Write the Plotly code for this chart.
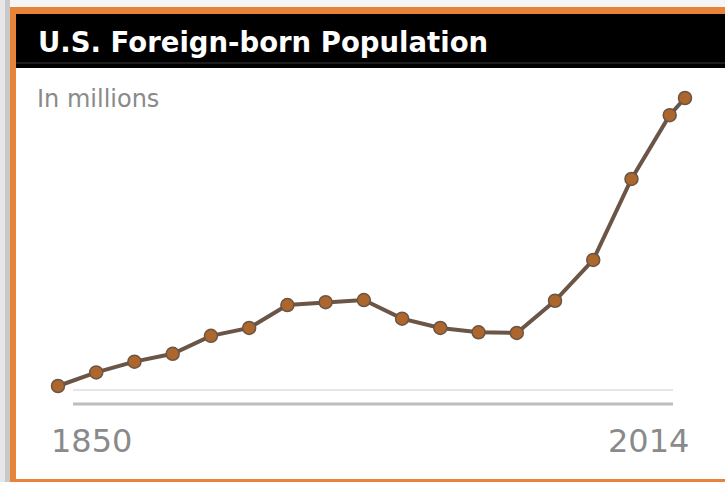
import plotly.graph_objects as go

# Data
years = [1850, 1860, 1870, 1880, 1890, 1900, 1910, 1920, 1930, 1940,
         1950, 1960, 1970, 1980, 1990, 2000, 2010, 2014]
pop_millions = [2.2, 4.1, 5.6, 6.7, 9.2, 10.3, 13.5, 13.9, 14.2, 11.6,
                10.3, 9.7, 9.6, 14.1, 19.8, 31.1, 40.0, 42.4]
title_text = "U.S. Foreign-born Population"
subtitle_text = "In millions"
tick_labels = ["1850", "2014"]

W, H = 725, 482
def px(x):
    return x / W
def py(y):
    return 1 - y / H

ORANGE = "#e8833a"
LINE = "#6a5546"
MARK = "#ad662c"

fig = go.Figure()
fig.add_trace(go.Scatter(
    x=years, y=pop_millions, mode="lines+markers",
    line=dict(color=LINE, width=4),
    marker=dict(size=13, color=MARK, line=dict(color=LINE, width=1.5)),
    hoverinfo="x+y", showlegend=False,
))

shapes = [
    # left shadow
    dict(type="rect", xref="paper", yref="paper", x0=0, x1=px(5), y0=0, y1=1,
         fillcolor="#e6e6e6", line=dict(width=0), layer="below"),
    dict(type="rect", xref="paper", yref="paper", x0=px(5), x1=px(10), y0=0, y1=1,
         fillcolor="#c8c8c8", line=dict(width=0), layer="below"),
    # top light strip
    dict(type="rect", xref="paper", yref="paper", x0=px(10), x1=1, y0=py(7), y1=1,
         fillcolor="#f5f5f5", line=dict(width=0), layer="below"),
    # orange frame
    dict(type="rect", xref="paper", yref="paper", x0=px(10), x1=1, y0=0, y1=py(7),
         fillcolor=ORANGE, line=dict(width=0), layer="below"),
    # white inner panel
    dict(type="rect", xref="paper", yref="paper", x0=px(16), x1=1, y0=py(479), y1=py(14),
         fillcolor="white", line=dict(width=0), layer="below"),
    # black title bar
    dict(type="rect", xref="paper", yref="paper", x0=px(16), x1=1, y0=py(68), y1=py(14),
         fillcolor="black", line=dict(width=0), layer="below"),
    dict(type="line", xref="paper", yref="paper", x0=px(16), x1=1, y0=py(63), y1=py(63),
         line=dict(color="#3a3a3a", width=1), layer="below"),
    # baseline
    dict(type="line", xref="paper", yref="paper", x0=px(73), x1=px(673), y0=py(390), y1=py(390),
         line=dict(color="#e6e6e6", width=2), layer="below"),
    dict(type="line", xref="paper", yref="paper", x0=px(73), x1=px(673), y0=py(404), y1=py(404),
         line=dict(color="#bdbdbd", width=3), layer="below"),
]

annotations = [
    dict(text=f"<b>{title_text}</b>", xref="paper", yref="paper", x=px(36), y=py(42),
         xanchor="left", yanchor="middle", showarrow=False,
         font=dict(family="DejaVu Sans", size=27.5, color="white")),
    dict(text=subtitle_text, xref="paper", yref="paper", x=px(35), y=py(99),
         xanchor="left", yanchor="middle", showarrow=False,
         font=dict(family="DejaVu Sans", size=24, color="#8a8a8a")),
    dict(text=tick_labels[0], xref="x", yref="paper", x=years[0], y=py(441),
         xanchor="left", yanchor="middle", showarrow=False, xshift=-9,
         font=dict(family="DejaVu Sans", size=32, color="#8a8a8a")),
    dict(text=tick_labels[1], xref="x", yref="paper", x=years[-1], y=py(441),
         xanchor="right", yanchor="middle", showarrow=False, xshift=6,
         font=dict(family="DejaVu Sans", size=32, color="#8a8a8a")),
]

x_per_px = (2014 - 1850) / (685 - 58)
x0 = 1850 - 58 * x_per_px
x1 = x0 + W * x_per_px
y_per_px = (42.4 - 2.2) / (386 - 98)
y_top = 2.2 + 386 * y_per_px
y_bot = 2.2 - (H - 386) * y_per_px

fig.update_layout(
    width=W, height=H, margin=dict(l=0, r=0, t=0, b=0),
    paper_bgcolor="white", plot_bgcolor="rgba(0,0,0,0)",
    xaxis=dict(range=[x0, x1], visible=False, fixedrange=True),
    yaxis=dict(range=[y_bot, y_top], visible=False, fixedrange=True),
    shapes=shapes, annotations=annotations,
)

fig.write_html("out.html")
